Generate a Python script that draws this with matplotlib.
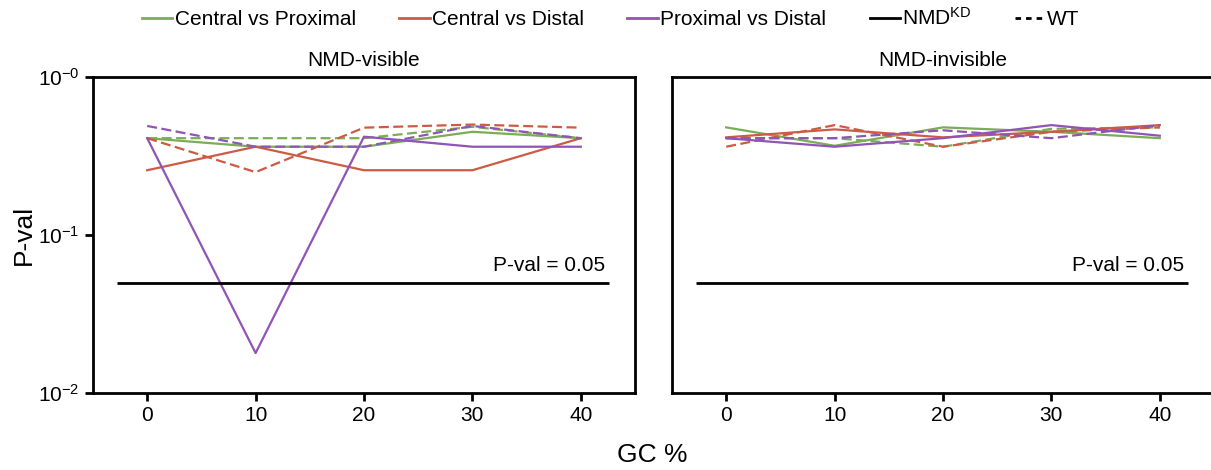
import numpy as np
import matplotlib.pyplot as plt
from matplotlib.lines import Line2D

plt.rcParams['font.family'] = ['Liberation Sans', 'DejaVu Sans']
plt.rcParams['mathtext.fontset'] = 'custom'
plt.rcParams['mathtext.rm'] = 'Liberation Sans'
plt.rcParams['mathtext.it'] = 'Liberation Sans'

gc = [0, 10, 20, 30, 40]
panels = ['NMD-visible', 'NMD-invisible']
comparisons = ['Central vs Proximal', 'Central vs Distal', 'Proximal vs Distal']
colors = ['#7aad55', '#cc5b44', '#9054b6']

# p-values, NMD knockdown (solid) and wild type (dashed)
kd_visible = {
    'Central vs Proximal': [0.41, 0.362, 0.362, 0.45, 0.41],
    'Central vs Distal': [0.257, 0.362, 0.257, 0.257, 0.41],
    'Proximal vs Distal': [0.41, 0.0179, 0.419, 0.362, 0.362],
}
wt_visible = {
    'Central vs Proximal': [0.41, 0.41, 0.41, 0.484, 0.41],
    'Central vs Distal': [0.41, 0.25, 0.478, 0.50, 0.478],
    'Proximal vs Distal': [0.49, 0.362, 0.362, 0.49, 0.41],
}
kd_invisible = {
    'Central vs Proximal': [0.48, 0.367, 0.48, 0.45, 0.41],
    'Central vs Distal': [0.415, 0.466, 0.415, 0.45, 0.496],
    'Proximal vs Distal': [0.41, 0.362, 0.41, 0.496, 0.425],
}
wt_invisible = {
    'Central vs Proximal': [0.41, 0.41, 0.362, 0.47, 0.48],
    'Central vs Distal': [0.362, 0.496, 0.362, 0.45, 0.48],
    'Proximal vs Distal': [0.41, 0.41, 0.46, 0.41, 0.496],
}
cutoff = 0.05

fs = 15
fig = plt.figure(figsize=(12.11, 4.70), dpi=100)
ax1 = fig.add_axes([93 / 1211, 1 - 393 / 470, 542 / 1211, 316 / 470])
# right panel runs off the right edge of the figure, as in the original
ax2 = fig.add_axes([672 / 1211, 1 - 393 / 470, 542 / 1211, 316 / 470])

data = [(kd_visible, wt_visible), (kd_invisible, wt_invisible)]
for i, ax in enumerate([ax1, ax2]):
    kd, wt = data[i]
    for name, c in zip(comparisons, colors):
        ax.plot(gc, wt[name], color=c, lw=1.6, ls=(0, (4.5, 2)))
        ax.plot(gc, kd[name], color=c, lw=1.6)
    ax.hlines(cutoff, -2.75, 42.6, color='black', lw=2)
    ax.text(42.2, cutoff * 1.12, 'P-val = 0.05', ha='right', va='bottom', fontsize=fs)
    ax.set_yscale('log')
    ax.set_ylim(0.01, 1)
    ax.set_xlim(-5, 45)
    ax.set_xticks(gc)
    ax.set_title(panels[i], fontsize=fs, pad=8)
    for s in ax.spines.values():
        s.set_linewidth(2)
    ax.tick_params(axis='both', width=2, length=6, labelsize=fs, direction='out')
    ax.tick_params(axis='y', which='minor', left=False)

ax1.set_yticks([0.01, 0.1, 1])
ax1.set_yticklabels([r'$10^{-2}$', r'$10^{-1}$', r'$10^{-0}$'])
ax1.set_ylabel('P-val', fontsize=19, labelpad=2)
ax2.set_yticks([])
ax2.tick_params(axis='y', which='both', left=False, labelleft=False)

fig.text(652 / 1211, 1 - 455 / 470, 'GC %', ha='center', va='center', fontsize=19)

handles = [Line2D([], [], color=c, lw=2) for c in colors]
handles += [Line2D([], [], color='black', lw=2),
            Line2D([], [], color='black', lw=2, ls=(0, (2, 1.8)))]
labels = comparisons + [r'NMD$^{\mathrm{KD}}$', 'WT']
fig.legend(handles, labels, loc='center', bbox_to_anchor=(611 / 1211, 1 - 18 / 470), ncol=5,
           frameon=False, fontsize=fs, handlelength=1.45, handletextpad=0.1,
           columnspacing=2.1)

fig.savefig('out.png', dpi=100)
